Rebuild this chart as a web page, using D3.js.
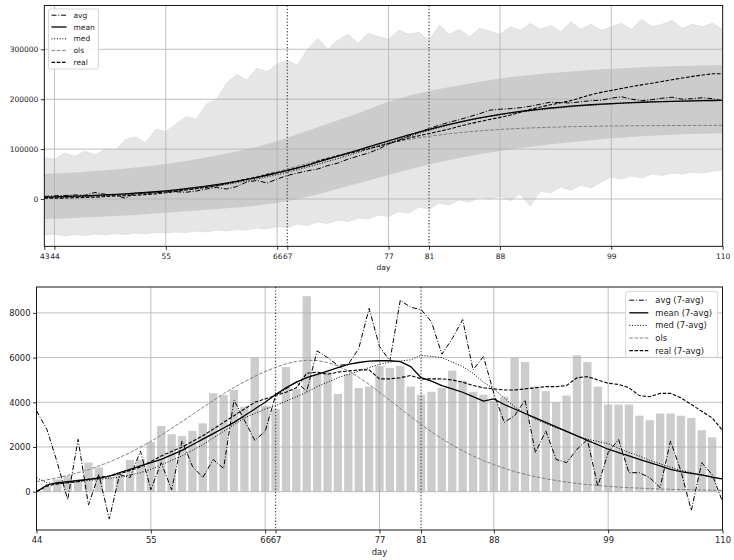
<!DOCTYPE html>
<html>
<head>
<meta charset="utf-8">
<script src="https://cdn.jsdelivr.net/npm/d3@7"></script>
<style>
body { margin: 0; background: #fff; }
svg { display: block; font-family: "DejaVu Sans", sans-serif; }
</style>
</head>
<body>
<svg id="chart" width="734" height="560"></svg>
<script>
// ---- data: top panel (cumulative, days 43..110) ----
var topDays = d3.range(43, 111);
var topTicks = [43, 44, 55, 66, 67, 77, 81, 88, 99, 110];
var topGridDays = [44, 55, 66, 77, 88, 99, 110];
var topYTicks = [0, 100000, 200000, 300000];
var markerDays = [67, 81];

// spread of the simulated runs (outer envelope)
var simUpper = [82000, 80000, 92000, 85000, 96000, 88000, 100000, 98000, 118000, 125000, 112000, 140000, 135000, 150000, 165000, 160000, 190000, 200000, 232000, 250000, 238000, 262000, 255000, 270000, 278000, 268000, 300000, 322000, 300000, 318000, 330000, 312000, 332000, 325000, 320000, 338000, 330000, 334000, 318000, 348000, 330000, 340000, 325000, 342000, 336000, 330000, 345000, 338000, 352000, 340000, 348000, 335000, 355000, 340000, 350000, 338000, 345000, 352000, 340000, 360000, 345000, 350000, 358000, 342000, 350000, 345000, 352000, 340000];
var simLower = [-72000, -70000, -74000, -71000, -73000, -70000, -72000, -69000, -71000, -68000, -70000, -67000, -68000, -66000, -67000, -64000, -66000, -62000, -64000, -61000, -62000, -58000, -60000, -55000, -57000, -50000, -53000, -46000, -49000, -42000, -45000, -38000, -40000, -32000, -35000, -25000, -28000, -16000, -20000, -8000, -12000, -2000, -6000, 4000, 0, 6000, -4000, 10000, -14000, 16000, 12000, 24000, 18000, 28000, 22000, 34000, 44000, 40000, 46000, 42000, 50000, 47000, 52000, 50000, 54000, 52000, 56000, 58000];
// inner band
var bandUpper = [50000, 51000, 52000, 53000, 54500, 56000, 57500, 59000, 61000, 63000, 65000, 67500, 70000, 73000, 76000, 79500, 83000, 87000, 91000, 95000, 99500, 104000, 110000, 116000, 123000, 130000, 137000, 144000, 151000, 158000, 165000, 172000, 180000, 188000, 195000, 201000, 207000, 212000, 216500, 220500, 224500, 228000, 231500, 235000, 238500, 241500, 244000, 246500, 248500, 250500, 252500, 254000, 255500, 257000, 258500, 260000, 261000, 262000, 263000, 264000, 264800, 265500, 266200, 266800, 267300, 267700, 268000, 268300];
var bandLower = [-40000, -39500, -39000, -38000, -37000, -36000, -35000, -34000, -33000, -32000, -30500, -29000, -27500, -26000, -24500, -23000, -21500, -20000, -18500, -17000, -15500, -13000, -10500, -7500, -4000, 0, 4500, 9500, 15000, 20500, 26000, 31500, 37000, 42500, 48000, 53500, 59000, 64000, 69000, 73500, 78000, 82000, 86000, 89500, 93000, 96000, 99000, 102000, 104500, 107000, 109500, 111500, 113500, 115500, 117500, 119500, 121500, 123000, 124500, 126000, 127000, 128000, 129000, 130000, 130500, 131000, 131500, 132000];

var topAvg = [5000, 6500, 7000, 8200, 7500, 13000, 9500, 8000, 1500, 12000, 11500, 12500, 14000, 14500, 13500, 16000, 20000, 23000, 20000, 25000, 34000, 37000, 32000, 40000, 47000, 52000, 56500, 60000, 67000, 72000, 80000, 86000, 92000, 100000, 110000, 118000, 126000, 134000, 141000, 148000, 154000, 159000, 165000, 171000, 178000, 180000, 181000, 183000, 186000, 190000, 194000, 193000, 192500, 195000, 197000, 198000, 202000, 205000, 200000, 197000, 199000, 202000, 204000, 200000, 201000, 203000, 201000, 197000];
var topMean = [3900, 4400, 5000, 5700, 6400, 7200, 8100, 9200, 10300, 11600, 13000, 14700, 16400, 18400, 20600, 23100, 25700, 28700, 31900, 35400, 39200, 43300, 47600, 52300, 57300, 62500, 68000, 73700, 79700, 85700, 91900, 98100, 104400, 110600, 116700, 122700, 128600, 134200, 139600, 144700, 149600, 154200, 158400, 162400, 166100, 169400, 172500, 175400, 177900, 180300, 182400, 184300, 186000, 187500, 188900, 190200, 191300, 192300, 193100, 193900, 194600, 195200, 195800, 196300, 196700, 197100, 197400, 197700];
var topMed = [3000, 3500, 4100, 4700, 5400, 6200, 7000, 8000, 9100, 10300, 11600, 13100, 14800, 16600, 18700, 21000, 23500, 26300, 29300, 32600, 36200, 40100, 44300, 48800, 53600, 58700, 64000, 69500, 75300, 81200, 87300, 93500, 99800, 106200, 112600, 119000, 125300, 131400, 137400, 143100, 148400, 153300, 157800, 161800, 165400, 168600, 171500, 174200, 176700, 179000, 181100, 183000, 184800, 186400, 187900, 189200, 190400, 191500, 192500, 193400, 194200, 194900, 195500, 196000, 196500, 196900, 197200, 197500];
var topOls = [2700, 3100, 3600, 4200, 4900, 5600, 6500, 7500, 8600, 9900, 11400, 13100, 15000, 17200, 19600, 22300, 25300, 28600, 32200, 36200, 40400, 45000, 49800, 54900, 60300, 65700, 71200, 76800, 82300, 87700, 93100, 98100, 103000, 107600, 111800, 115700, 119400, 122700, 125700, 128400, 130800, 132900, 134900, 136600, 138100, 139400, 140500, 141500, 142400, 143100, 143800, 144400, 144900, 145300, 145600, 146000, 146300, 146500, 146700, 146900, 147000, 147200, 147300, 147400, 147500, 147500, 147600, 147700];
var topReal = [1500, 1600, 1850, 2400, 3100, 3600, 4900, 5980, 6630, 7380, 8800, 10240, 12460, 15400, 17970, 20460, 23180, 26240, 30650, 34970, 39520, 43320, 49310, 53150, 56840, 62420, 67010, 75760, 81030, 86380, 90750, 96020, 100660, 105360, 110980, 116520, 122140, 126840, 131180, 135650, 140290, 145710, 150680, 155150, 159490, 163540, 167790, 173790, 179590, 184290, 188790, 192790, 197090, 203190, 208990, 213690, 217590, 221490, 225390, 228790, 231990, 235490, 238990, 242390, 245690, 248440, 250870, 250870];

// ---- data: bottom panel (daily, days 44..110) ----
var bottomDays = d3.range(44, 111);
var bottomTicks = [44, 55, 66, 67, 77, 81, 88, 99, 110];
var bottomGridDays = [44, 55, 66, 77, 88, 99, 110];
var bottomYTicks = [0, 2000, 4000, 6000, 8000];

var dailyReal = [100, 250, 550, 700, 500, 1300, 1080, 650, 750, 1420, 1440, 2220, 2940, 2570, 2490, 2720, 3060, 4410, 4320, 4550, 3800, 5990, 3840, 3690, 5580, 4590, 8750, 5270, 5350, 4370, 5270, 4640, 4700, 5620, 5540, 5620, 4700, 4340, 4470, 4640, 5420, 4970, 4470, 4340, 4050, 4250, 6000, 5800, 4700, 4500, 4000, 4300, 6100, 5800, 4700, 3900, 3900, 3900, 3400, 3200, 3500, 3500, 3400, 3300, 2750, 2430, 0];
var avg7 = [3620, 2790, 1300, -360, 2340, -590, 770, -1220, 770, 630, 1820, 90, 1300, 90, 2270, 1140, 630, 1440, 1040, 4100, 3200, 2300, 2700, 4300, 4600, 4900, 4500, 6300, 6000, 5650, 5700, 6400, 8200, 6500, 5850, 8570, 8250, 8150, 7600, 6150, 6850, 7700, 5450, 6050, 4400, 3100, 3400, 4100, 1750, 2720, 1440, 1300, 1900, 2340, 240, 1750, 2340, 850, 850, 630, 180, 2270, 920, -840, 1300, 770, -440];
var mean7 = [0, 300, 400, 450, 500, 550, 600, 700, 850, 1000, 1150, 1300, 1450, 1650, 1850, 2100, 2350, 2600, 2850, 3100, 3400, 3700, 4000, 4350, 4650, 4900, 5100, 5250, 5400, 5550, 5700, 5780, 5840, 5860, 5860, 5820, 5600, 5100, 4950, 4750, 4600, 4450, 4250, 4050, 4150, 3900, 3700, 3500, 3300, 3100, 2900, 2700, 2500, 2300, 2100, 1900, 1750, 1600, 1450, 1300, 1150, 1000, 900, 820, 750, 650, 570];
var med7 = [620, 400, 350, 400, 450, 500, 550, 600, 650, 750, 850, 1000, 1200, 1400, 1600, 1850, 2100, 2400, 2700, 3000, 3300, 3500, 3700, 3850, 4050, 4250, 4450, 4700, 4900, 5100, 5250, 5400, 5550, 5700, 5800, 5850, 5900, 6100, 6050, 6000, 5800, 5600, 5300, 4900, 4600, 4200, 3800, 3500, 3250, 3050, 2850, 2700, 2500, 2350, 2250, 2150, 1950, 1750, 1600, 1400, 1250, 1100, 950, 850, 750, 650, 550];
var olsDaily = [450, 530, 620, 730, 850, 990, 1150, 1330, 1530, 1750, 1990, 2250, 2530, 2830, 3140, 3450, 3770, 4080, 4380, 4660, 4920, 5160, 5380, 5560, 5720, 5830, 5880, 5870, 5780, 5620, 5400, 5120, 4800, 4450, 4090, 3720, 3360, 3010, 2680, 2370, 2090, 1830, 1600, 1390, 1210, 1050, 900, 780, 670, 580, 500, 430, 370, 320, 280, 240, 210, 180, 160, 140, 120, 105, 95, 85, 75, 65, 60];
var real7 = [0, 250, 350, 400, 450, 550, 650, 700, 800, 950, 1100, 1350, 1600, 1800, 2000, 2250, 2500, 2800, 3100, 3400, 3700, 4000, 4150, 4300, 4450, 4650, 5300, 5350, 5250, 5350, 5400, 5450, 5450, 5050, 5050, 5100, 5200, 5050, 5050, 5050, 5000, 4900, 4750, 4650, 4600, 4550, 4550, 4600, 4650, 4700, 4700, 4750, 5100, 5150, 5000, 4850, 4800, 4650, 4300, 4250, 4400, 4400, 4200, 3900, 3600, 3300, 2750];

// line styles shared by both panels
var styles = {
    avg: { stroke: "#000", width: 1, dash: "5,1.8,1,1.8" },
    mean: { stroke: "#000", width: 1.3, dash: null },
    med: { stroke: "#000", width: 1, dash: "1,1.7" },
    ols: { stroke: "#808080", width: 1, dash: "3.6,1.6" },
    real: { stroke: "#000", width: 1.1, dash: "3.6,1.6" }
};

var svg = d3.select("#chart");

function styled(sel, st) {
    sel.attr("fill", "none")
        .attr("stroke", st.stroke)
        .attr("stroke-width", st.width)
        .attr("stroke-dasharray", st.dash);
    return sel;
}

function drawLine(g, x, y, days, values, st) {
    var line = d3.line()
        .x(function (d, i) { return x(days[i]); })
        .y(function (d) { return y(d); });
    styled(g.append("path").attr("d", line(values)), st);
}

function drawLegend(g, box, rowH, lineLen, fontSize, entries) {
    var lg = g.append("g").attr("transform", "translate(" + box.x + "," + box.y + ")");
    lg.append("rect")
        .attr("width", box.w).attr("height", box.h)
        .attr("rx", 2).attr("fill", "#fff").attr("fill-opacity", 0.85)
        .attr("stroke", "#cccccc").attr("stroke-width", 0.8);
    entries.forEach(function (e, i) {
        var cy = box.first + i * rowH;
        styled(lg.append("line")
            .attr("x1", box.pad).attr("x2", box.pad + lineLen)
            .attr("y1", cy).attr("y2", cy), styles[e.key]);
        lg.append("text")
            .attr("x", box.pad + lineLen + box.gap).attr("y", cy)
            .attr("dy", "0.35em")
            .attr("font-size", fontSize)
            .attr("fill", "#222")
            .text(e.label);
    });
}

function drawAxes(g, x, y, xTicks, yTicks, area, fontSize, yFormat) {
    var ax = g.append("g").attr("transform", "translate(0," + area.bottom + ")")
        .call(d3.axisBottom(x).tickValues(xTicks).tickFormat(d3.format("d")).tickSize(3.5).tickPadding(3.5));
    var ay = g.append("g").attr("transform", "translate(" + area.left + ",0)")
        .call(d3.axisLeft(y).tickValues(yTicks).tickFormat(yFormat).tickSize(3.5).tickPadding(2.5));
    [ax, ay].forEach(function (a) {
        a.select(".domain").remove();
        a.attr("font-family", null).attr("font-size", fontSize);
        a.selectAll("line").attr("stroke", "#000").attr("stroke-width", 0.8);
        a.selectAll("text").attr("fill", "#222");
    });
    g.append("rect")
        .attr("x", area.left).attr("y", area.top)
        .attr("width", area.right - area.left).attr("height", area.bottom - area.top)
        .attr("fill", "none").attr("stroke", "#000").attr("stroke-width", 0.9);
    g.append("text")
        .attr("x", (area.left + area.right) / 2)
        .attr("y", area.bottom + area.labelOffset)
        .attr("text-anchor", "middle")
        .attr("font-size", fontSize)
        .attr("fill", "#222")
        .text("day");
}

function drawGrid(g, x, y, xs, ys, area) {
    g.selectAll(null).data(xs).enter().append("line")
        .attr("x1", function (d) { return x(d); }).attr("x2", function (d) { return x(d); })
        .attr("y1", area.top).attr("y2", area.bottom)
        .attr("stroke", "#b0b0b0").attr("stroke-width", 0.8);
    g.selectAll(null).data(ys).enter().append("line")
        .attr("y1", function (d) { return y(d); }).attr("y2", function (d) { return y(d); })
        .attr("x1", area.left).attr("x2", area.right)
        .attr("stroke", "#b0b0b0").attr("stroke-width", 0.8);
}

function drawMarkers(g, x, area) {
    g.selectAll(null).data(markerDays).enter().append("line")
        .attr("x1", function (d) { return x(d); }).attr("x2", function (d) { return x(d); })
        .attr("y1", area.top).attr("y2", area.bottom)
        .attr("stroke", "#555").attr("stroke-width", 1.3)
        .attr("stroke-dasharray", "1.3,1.9");
}

// ================= top panel =================
var topArea = { left: 44.3, right: 722.7, top: 5.5, bottom: 246.3, labelOffset: 24 };
var xTop = d3.scaleLinear().domain([43, 110]).range([topArea.left, topArea.right]);
var yTop = d3.scaleLinear().domain([-94800, 387800]).range([topArea.bottom, topArea.top]);

var gTop = svg.append("g");
gTop.append("clipPath").attr("id", "clipTop").append("rect")
    .attr("x", topArea.left).attr("y", topArea.top)
    .attr("width", topArea.right - topArea.left).attr("height", topArea.bottom - topArea.top);
var plotTop = gTop.append("g").attr("clip-path", "url(#clipTop)");

var simArea = d3.area()
    .x(function (d) { return xTop(d); })
    .y0(function (d, i) { return yTop(simLower[i]); })
    .y1(function (d, i) { return yTop(simUpper[i]); });
plotTop.append("path").datum(topDays).attr("d", simArea)
    .attr("fill", "#e6e6e6").attr("stroke", "#dddddd").attr("stroke-width", 0.8);

var bandArea = d3.area()
    .x(function (d) { return xTop(d); })
    .y0(function (d, i) { return yTop(bandLower[i]); })
    .y1(function (d, i) { return yTop(bandUpper[i]); });
plotTop.append("path").datum(topDays).attr("d", bandArea).attr("fill", "#cccccc");

drawGrid(plotTop, xTop, yTop, topGridDays, topYTicks, topArea);
drawMarkers(plotTop, xTop, topArea);

drawLine(plotTop, xTop, yTop, topDays, topOls, styles.ols);
drawLine(plotTop, xTop, yTop, topDays, topReal, styles.real);
drawLine(plotTop, xTop, yTop, topDays, topMed, styles.med);
drawLine(plotTop, xTop, yTop, topDays, topMean, styles.mean);
drawLine(plotTop, xTop, yTop, topDays, topAvg, styles.avg);

drawAxes(gTop, xTop, yTop, topTicks, topYTicks, topArea, 7.5, d3.format("d"));

drawLegend(gTop, { x: 48.5, y: 9, w: 50, h: 60, pad: 3, gap: 7, first: 6.2 }, 11.8, 15, 7.5, [
    { key: "avg", label: "avg" },
    { key: "mean", label: "mean" },
    { key: "med", label: "med" },
    { key: "ols", label: "ols" },
    { key: "real", label: "real" }
]);

// ================= bottom panel =================
var botArea = { left: 36.5, right: 722.5, top: 287, bottom: 530, labelOffset: 25 };
var xBot = d3.scaleLinear().domain([44, 110]).range([botArea.left, botArea.right]);
var yBot = d3.scaleLinear().domain([-1714, 9159]).range([botArea.bottom, botArea.top]);

var gBot = svg.append("g");
gBot.append("clipPath").attr("id", "clipBot").append("rect")
    .attr("x", botArea.left).attr("y", botArea.top)
    .attr("width", botArea.right - botArea.left).attr("height", botArea.bottom - botArea.top);
var plotBot = gBot.append("g").attr("clip-path", "url(#clipBot)");

plotBot.selectAll("rect.bar").data(dailyReal).enter().append("rect")
    .attr("class", "bar")
    .attr("x", function (d, i) { return xBot(bottomDays[i] - 0.4); })
    .attr("width", xBot(0.8) - xBot(0))
    .attr("y", function (d) { return yBot(Math.max(d, 0)); })
    .attr("height", function (d) { return Math.abs(yBot(d) - yBot(0)); })
    .attr("fill", "#cccccc");

drawGrid(plotBot, xBot, yBot, bottomGridDays, bottomYTicks, botArea);
drawMarkers(plotBot, xBot, botArea);

drawLine(plotBot, xBot, yBot, bottomDays, olsDaily, styles.ols);
drawLine(plotBot, xBot, yBot, bottomDays, real7, styles.real);
drawLine(plotBot, xBot, yBot, bottomDays, med7, styles.med);
drawLine(plotBot, xBot, yBot, bottomDays, mean7, styles.mean);
drawLine(plotBot, xBot, yBot, bottomDays, avg7, styles.avg);

drawAxes(gBot, xBot, yBot, bottomTicks, bottomYTicks, botArea, 8.4, d3.format("d"));

drawLegend(gBot, { x: 625.7, y: 291.7, w: 92, h: 65.6, pad: 3.6, gap: 7, first: 8.5 }, 12.6, 19, 8.4, [
    { key: "avg", label: "avg (7-avg)" },
    { key: "mean", label: "mean (7-avg)" },
    { key: "med", label: "med (7-avg)" },
    { key: "ols", label: "ols" },
    { key: "real", label: "real (7-avg)" }
]);
</script>
</body>
</html>
